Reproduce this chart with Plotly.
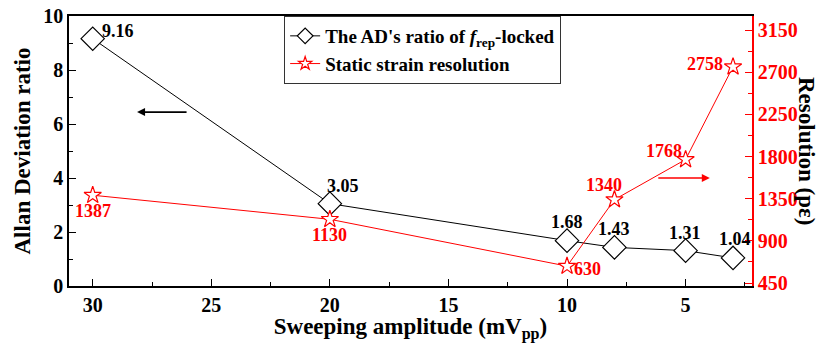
import plotly.graph_objects as go

# ---- data ----
amplitude = [30, 20, 10, 8, 5, 3]
ad_ratio = [9.16, 3.05, 1.68, 1.43, 1.31, 1.04]
resolution = [1387, 1130, 630, 1340, 1768, 2758]
ad_labels = ["9.16", "3.05", "1.68", "1.43", "1.31", "1.04"]
res_labels = ["1387", "1130", "630", "1340", "1768", "2758"]
x_ticks = [30, 25, 20, 15, 10, 5]
y_ticks = [0, 2, 4, 6, 8, 10]
y2_ticks = [450, 900, 1350, 1800, 2250, 2700, 3150]

FONT = '"Liberation Serif", "Times New Roman", Times, serif'
RED = "#ff0000"


def b(s):
    return "<b>" + s + "</b>"


fig = go.Figure()
fig.add_trace(go.Scatter(
    x=amplitude, y=ad_ratio, mode="lines+markers", showlegend=False,
    line=dict(color="black", width=1),
    marker=dict(symbol="diamond", size=18, color="white",
                line=dict(color="black", width=1.2)),
    yaxis="y"))
fig.add_trace(go.Scatter(
    x=amplitude, y=resolution, mode="lines+markers", showlegend=False,
    line=dict(color=RED, width=1),
    marker=dict(symbol="star", size=13, color="white",
                line=dict(color=RED, width=1.2)),
    yaxis="y2"))
# legend entries (same styles, smaller symbols as in the original legend)
fig.add_trace(go.Scatter(
    x=[None], y=[None], mode="lines+markers",
    name=b("The AD's ratio of <i>f</i><sub>rep</sub>-locked"),
    line=dict(color="black", width=1),
    marker=dict(symbol="diamond", size=12, color="white",
                line=dict(color="black", width=1.2)),
    yaxis="y"))
fig.add_trace(go.Scatter(
    x=[None], y=[None], mode="lines+markers",
    name=b("Static strain resolution"),
    line=dict(color=RED, width=1),
    marker=dict(symbol="star", size=10, color="white",
                line=dict(color=RED, width=1.2)),
    yaxis="y2"))

# value labels (pixel offsets only)
ad_off = [(25, 8), (13, 18), (0, 19), (0, 18), (-1, 18), (2, 19)]
res_off = [(0, -16), (0, -16), (20, -3), (-10, 15), (-22, 9), (-28, 3)]
ann = []
for xv, yv, t, (dx, dy) in zip(amplitude, ad_ratio, ad_labels, ad_off):
    ann.append(dict(x=xv, y=yv, xref="x", yref="y", text=b(t), showarrow=False,
                    xshift=dx, yshift=dy,
                    font=dict(family=FONT, size=18, color="black")))
for xv, yv, t, (dx, dy) in zip(amplitude, resolution, res_labels, res_off):
    ann.append(dict(x=xv, y=yv, xref="x", yref="y2", text=b(t), showarrow=False,
                    xshift=dx, yshift=dy,
                    font=dict(family=FONT, size=18, color=RED)))
# direction arrows
ann.append(dict(x=28.13, y=6.44, xref="x", yref="y", text="", showarrow=True,
                ax=51, ay=0, arrowhead=2, arrowsize=1, arrowwidth=1.6,
                arrowcolor="black"))
ann.append(dict(x=3.98, y=1570, xref="x", yref="y2", text="", showarrow=True,
                ax=-53, ay=0, arrowhead=2, arrowsize=1, arrowwidth=1.6,
                arrowcolor=RED))
# right axis title (reads top to bottom)
ann.append(dict(x=1.0, y=0.5, xref="paper", yref="paper", xanchor="center",
                yanchor="middle", xshift=55, text=b("Resolution (pε)"),
                textangle=90, showarrow=False,
                font=dict(family=FONT, size=23, color="black")))

tickfont = dict(family=FONT, size=20)
fig.update_layout(
    width=827, height=343,
    margin=dict(l=69, r=75, t=16, b=57),
    paper_bgcolor="white", plot_bgcolor="white",
    font=dict(family=FONT),
    showlegend=True,
    legend=dict(x=0.315, y=1.0, xanchor="left", yanchor="top",
                bgcolor="white", bordercolor="#333333", borderwidth=1,
                font=dict(family=FONT, size=19, color="black"),
                tracegroupgap=0, itemwidth=30),
    xaxis=dict(range=[31, 2.2], tickvals=x_ticks, automargin=False,
               ticktext=[b(str(v)) for v in x_ticks],
               ticks="inside", ticklen=7,
               tickwidth=1, tickcolor="black", showline=True, linecolor="black",
               linewidth=1.5, mirror=True, showgrid=False, zeroline=False,
               tickfont=dict(tickfont, color="black"),
               minor=dict(dtick=2.5, tick0=0, ticks="inside", ticklen=4,
                          tickcolor="black", showgrid=False),
               title=dict(text=b("Sweeping amplitude (mV<sub>pp</sub>)"), standoff=2,
                          font=dict(family=FONT, size=23, color="black"))),
    yaxis=dict(range=[0, 10], tickvals=y_ticks, automargin=False,
               ticktext=[b(str(v)) for v in y_ticks],
               ticks="inside", ticklen=7,
               tickwidth=1, tickcolor="black", showline=True, linecolor="black",
               linewidth=1.5, showgrid=False, zeroline=False,
               tickfont=dict(tickfont, color="black"),
               minor=dict(dtick=1, ticks="inside", ticklen=4, tickcolor="black",
                          showgrid=False),
               title=dict(text=b("Allan Deviation ratio"), standoff=6,
                          font=dict(family=FONT, size=23, color="black"))),
    yaxis2=dict(overlaying="y", side="right", range=[418, 3300], automargin=False,
                tickvals=y2_ticks, ticktext=[b(str(v)) for v in y2_ticks],
                ticks="inside", ticklen=7, tickwidth=1,
                tickcolor=RED, showline=True, linecolor=RED, linewidth=1.5,
                showgrid=False, zeroline=False,
                tickfont=dict(tickfont, color=RED),
                minor=dict(dtick=225, tick0=450, ticks="inside", ticklen=4,
                           tickcolor=RED, showgrid=False)),
    annotations=ann,
)

fig.write_html("out.html")
